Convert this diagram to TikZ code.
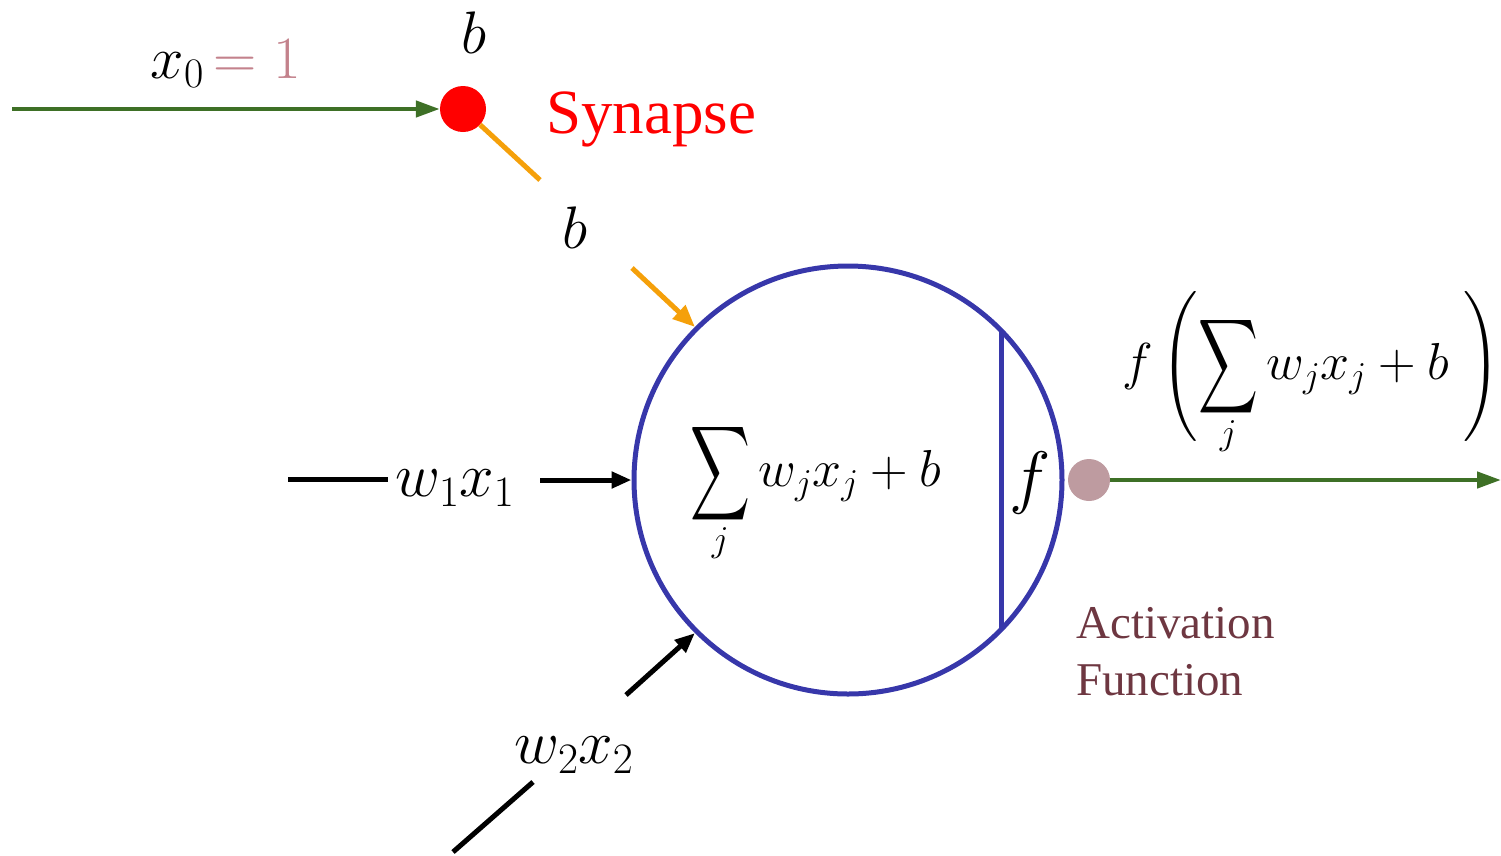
\RequirePackage{fix-cm}
\documentclass[tikz,border=0pt]{standalone}
\usepackage{graphicx}
\usepackage{fontspec}
\newfontfamily\tnr{Liberation Serif}
\usetikzlibrary{arrows.meta}
\definecolor{lgreen}{RGB}{62,112,38}
\definecolor{morange}{RGB}{245,160,10}
\definecolor{nblue}{RGB}{55,55,170}
\definecolor{mauvedot}{RGB}{190,155,160}
\definecolor{mauvetxt}{RGB}{195,130,140}
\definecolor{actcol}{RGB}{110,55,65}
\newcommand{\tallsum}{\mathop{\vcenter{\hbox{\fontsize{10}{12}\selectfont\scalebox{4.15}[6.6]{$\displaystyle\sum$}}}}\limits}
\newcommand{\tallparL}{\mathopen{\vcenter{\hbox{\fontsize{10}{12}\selectfont\scalebox{4.6}[5]{$\Biggl($}}}}}
\newcommand{\tallparR}{\mathclose{\vcenter{\hbox{\fontsize{10}{12}\selectfont\scalebox{4.6}[5]{$\Biggr)$}}}}}
\begin{document}
\begin{tikzpicture}[x=1pt,y=-1pt,
  garrow/.style={draw=lgreen,line width=4.5pt,-{Triangle[length=24pt,width=16pt]}},
  karrow/.style={draw=black,line width=5pt,-{Triangle[length=20pt,width=16pt]}},
  kline/.style={draw=black,line width=5pt},
  oarrow/.style={draw=morange,line width=5pt,-{Triangle[length=22pt,width=18pt]}},
  oline/.style={draw=morange,line width=5pt},
  mth/.style={inner sep=0pt,font=\fontsize{60}{66}\selectfont},
  wx/.style={inner sep=0pt,font=\fontsize{62}{68}\selectfont},
  sm/.style={inner sep=0pt,font=\fontsize{52}{60}\selectfont},
  tlab/.style={inner sep=0pt,font=\fontsize{47}{57}\selectfont\tnr}
]
\useasboundingbox (0,0) rectangle (1501,855);

% neuron
\node[circle,draw=nblue,line width=5pt,minimum size=428pt,inner sep=0pt] (neuron) at (848,480) {};
\coordinate (chordtop) at (1001,330);
\coordinate (chordbot) at (1001,630);
\draw[nblue,line width=5pt] (chordtop) -- (chordbot);
\node[sm,anchor=west] (sum) at (690,490) {$\tallsum_j w_jx_j+b$};
\node[inner sep=0pt,font=\fontsize{70}{76}\selectfont] (f) at (1030,483) {$f$};

% bias input
\coordinate (x0start) at (12,109);
\node[circle,fill=red,minimum size=46pt,inner sep=0pt] (syn) at (463,109) {};
\draw[garrow] (x0start) -- (syn);
\node[mth,anchor=base] (x0lab) at (226,78) {$x_0\,{\color{mauvetxt}=1}$};
\node[mth,anchor=base] (btop) at (474,53) {$b$};
\node[inner sep=0pt,anchor=base west,text=red,font=\fontsize{63}{70}\selectfont\tnr] (synlab) at (546,133) {Synapse};
\coordinate (oend) at (540,180);
\draw[oline] (syn) -- (oend);
\node[mth,anchor=base] (bmid) at (575,248) {$b$};
\coordinate (bstart) at (632,268);
\draw[oarrow] (bstart) -- (neuron.135);

% input 1
\coordinate (w1a) at (288,479);
\coordinate (w1b) at (388,479);
\draw[kline] (w1a) -- (w1b);
\node[wx] (w1lab) at (455,488) {$w_1x_1$};
\coordinate (w1c) at (540,480);
\draw[karrow] (w1c) -- (neuron.west);

% input 2
\coordinate (w2a) at (453,852);
\coordinate (w2b) at (533,782);
\draw[kline] (w2a) -- (w2b);
\node[wx] (w2lab) at (574,755) {$w_2x_2$};
\coordinate (w2c) at (626,695);
\draw[karrow] (w2c) -- (neuron.225);

% output
\node[circle,fill=mauvedot,minimum size=42pt,inner sep=0pt] (outdot) at (1089,480) {};
\coordinate (outend) at (1501,480);
\draw[garrow] (outdot) -- (outend);
\node[sm,anchor=east] (outlab) at (1500,372) {$f\,\tallparL\tallsum_j w_jx_j+b\;\tallparR$};

% activation function label
\node[tlab,anchor=base west,text=actcol] (act1) at (1076,638) {Activation};
\node[tlab,anchor=base west,text=actcol] (act2) at (1076,695) {Function};
\end{tikzpicture}
\end{document}
